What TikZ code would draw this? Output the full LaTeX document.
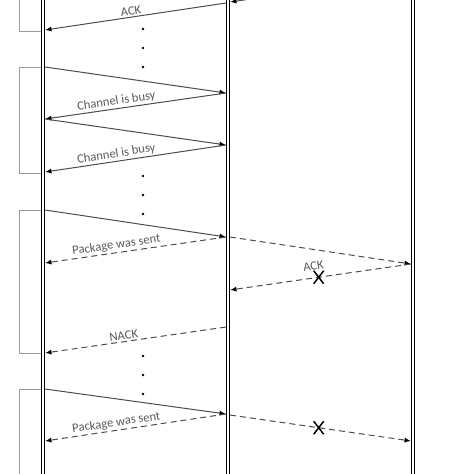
\documentclass[tikz,border=0pt]{standalone}
\usepackage{fontspec}
\setmainfont{Carlito}
\usetikzlibrary{arrows.meta,shapes.misc}

\begin{document}
\begin{tikzpicture}[
    x=1pt, y=-1pt,
    lifeline/.style={draw=black, line width=1.4pt, double=white, double distance=1.6pt},
    bracket/.style={draw=black!40, line width=1pt},
    msg/.style={draw=black!70, line width=1pt, -{Latex[length=6.5pt, width=5pt, color=black]}},
    lost/.style={msg, dash pattern=on 6pt off 4pt},
    lbl/.style={font=\fontsize{12.6}{15}\selectfont, text=black!65, sloped, above, inner sep=1.5pt},
    dot/.style={circle, fill=black, inner sep=0pt, minimum size=2.6pt},
    lossmark/.style={cross out, draw=black, solid, line width=1.5pt, minimum width=10pt, minimum height=13pt, inner sep=0pt, outer sep=0pt}
]
    \useasboundingbox (0,0) rectangle (474,474);
    \clip (0,0) rectangle (474,474);

    \draw[lifeline] (43,-10) -- (43,490);
    \draw[lifeline] (228,-10) -- (228,490);
    \draw[lifeline] (413,-10) -- (413,490);

    \draw[bracket] (41,-10) -- (19,-10) -- (19,31) -- (41,31);
    \draw[bracket] (41,67) -- (19,67) -- (19,173) -- (41,173);
    \draw[bracket] (41,210) -- (19,210) -- (19,353) -- (41,353);
    \draw[bracket] (41,389) -- (19,389) -- (19,490);

    \coordinate (r0) at (411,-24);
    \coordinate (m0) at (230,2);
    \coordinate (m0l) at (226,3);
    \coordinate (l0) at (45,30);
    \coordinate (l1) at (45,67);
    \coordinate (m1) at (226,93);
    \coordinate (l2) at (45,119);
    \coordinate (m2) at (226,145);
    \coordinate (l3) at (45,172);
    \coordinate (l4) at (45,210);
    \coordinate (m3) at (226,237);
    \coordinate (m3r) at (230,237);
    \coordinate (l5) at (45,263);
    \coordinate (r1) at (411,264);
    \coordinate (m4) at (230,290);
    \coordinate (m5) at (226,327);
    \coordinate (l6) at (45,353);
    \coordinate (l7) at (45,389);
    \coordinate (m6) at (226,414);
    \coordinate (m6r) at (230,415);
    \coordinate (l8) at (45,441);
    \coordinate (r2) at (411,441);

    \node[dot] (dots1a) at (143,29) {};
    \node[dot] (dots1b) at (143,48) {};
    \node[dot] (dots1c) at (143,67) {};
    \node[dot] (dots2a) at (143,176) {};
    \node[dot] (dots2b) at (143,195) {};
    \node[dot] (dots2c) at (143,214) {};
    \node[dot] (dots3a) at (143,356) {};
    \node[dot] (dots3b) at (143,375) {};
    \node[dot] (dots3c) at (143,394) {};

    \draw[msg] (r0) -- (m0);
    \draw[msg] (m0l) -- node[lbl, pos=0.52] {ACK} (l0);
    \draw[msg] (l1) -- (m1);
    \draw[msg] (m1) -- node[lbl, pos=0.6] {Channel is busy} (l2);
    \draw[msg] (l2) -- (m2);
    \draw[msg] (m2) -- node[lbl, pos=0.6] {Channel is busy} (l3);
    \draw[msg] (l4) -- (m3);
    \draw[lost] (m3) -- node[lbl, pos=0.6] {Package was sent} (l5);
    \draw[lost] (m3r) -- (r1);
    \draw[lost] (r1) -- node[lossmark, pos=0.51] (lossack) {} node[lbl, above=6pt, pos=0.53] {ACK} (m4);
    \draw[lost] (m5) -- node[lbl, pos=0.56] {NACK} (l6);
    \draw[msg] (l7) -- (m6);
    \draw[lost] (m6) -- node[lbl, pos=0.6] {Package was sent} (l8);
    \draw[lost] (m6r) -- node[lossmark, pos=0.49] (losspkg) {} (r2);
\end{tikzpicture}
\end{document}
